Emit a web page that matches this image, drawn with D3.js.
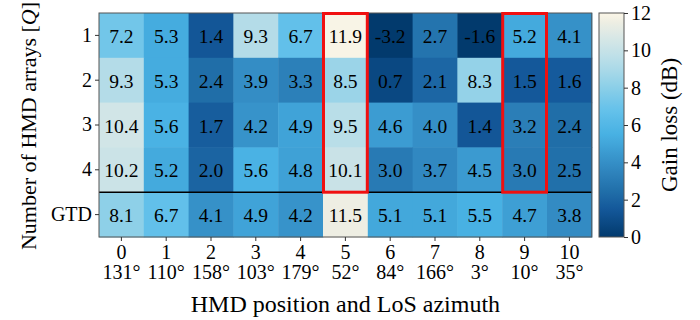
<!DOCTYPE html>
<html>
<head>
<meta charset="utf-8">
<script src="https://cdn.jsdelivr.net/npm/d3@7"></script>
<style>
  body { margin: 0; background: #fff; }
  svg text { font-family: "Liberation Serif", "Times New Roman", serif; fill: #000; }
</style>
</head>
<body>
<svg id="chart" width="700" height="320"></svg>
<script>
// HMD positions (column index) and their line-of-sight azimuths
const positions = ["0", "1", "2", "3", "4", "5", "6", "7", "8", "9", "10"];
const azimuths = ["131°", "110°", "158°", "103°", "179°", "52°", "84°", "166°", "3°", "10°", "35°"];
// Rows: number of HMD arrays Q, then the GTD reference
const rowLabels = ["1", "2", "3", "4", "GTD"];
const gainLoss = [
  [7.2, 5.3, 1.4, 9.3, 6.7, 11.9, -3.2, 2.7, -1.6, 5.2, 4.1],
  [9.3, 5.3, 2.4, 3.9, 3.3, 8.5, 0.7, 2.1, 8.3, 1.5, 1.6],
  [10.4, 5.6, 1.7, 4.2, 4.9, 9.5, 4.6, 4.0, 1.4, 3.2, 2.4],
  [10.2, 5.2, 2.0, 5.6, 4.8, 10.1, 3.0, 3.7, 4.5, 3.0, 2.5],
  [8.1, 6.7, 4.1, 4.9, 4.2, 11.5, 5.1, 5.1, 5.5, 4.7, 3.8]
];
// Highlighted positions (outlined over the Q rows)
const highlighted = [5, 9];
const colorbarTicks = [0, 2, 4, 6, 8, 10, 12];

const svg = d3.select("#chart");
const mLeft = 99, mTop = 13, cell = 44.8;
const W = cell * positions.length, H = cell * rowLabels.length;

const x = d3.scaleBand().domain(d3.range(positions.length)).range([mLeft, mLeft + W]);
const y = d3.scaleBand().domain(d3.range(rowLabels.length)).range([mTop, mTop + H]);

// Colormap: dark navy -> sky blue -> pale cream, clipped to [0, 12]
const stops = [
  [0, "#023a6d"], [1.5, "#14589a"], [2.5, "#2170aa"], [3.5, "#2f84bd"],
  [4.5, "#3b9ad0"], [5.5, "#48b1e3"], [6.7, "#62c0ea"], [8.0, "#8bcfe8"],
  [9.3, "#b4dce8"], [10.3, "#cee4e7"], [11.5, "#eeeee3"], [12, "#fbf6e7"]
];
const color = d3.scaleLinear()
  .domain(stops.map(s => s[0]))
  .range(stops.map(s => s[1]))
  .interpolate(d3.interpolateRgb)
  .clamp(true);

const cells = [];
gainLoss.forEach((row, r) => row.forEach((v, c) => cells.push({ r, c, v })));

svg.append("g").selectAll("rect").data(cells).join("rect")
  .attr("x", d => x(d.c)).attr("y", d => y(d.r))
  .attr("width", x.bandwidth() + 0.5).attr("height", y.bandwidth() + 0.5)
  .attr("fill", d => color(d.v));

svg.append("g").selectAll("text").data(cells).join("text")
  .attr("x", d => x(d.c) + x.bandwidth() / 2)
  .attr("y", d => y(d.r) + y.bandwidth() / 2 + 1)
  .attr("text-anchor", "middle").attr("dominant-baseline", "central")
  .style("font-size", "19.5px")
  .text(d => d.v.toFixed(1));

// Separator between Q rows and GTD row
svg.append("line")
  .attr("x1", mLeft).attr("x2", mLeft + W)
  .attr("y1", y(4)).attr("y2", y(4))
  .attr("stroke", "#000").attr("stroke-width", 1.5);

// Outline of the heatmap area
svg.append("rect")
  .attr("x", mLeft).attr("y", mTop).attr("width", W).attr("height", H)
  .attr("fill", "none").attr("stroke", "#555").attr("stroke-width", 1);

// Red outlines on highlighted positions
svg.append("g").selectAll("rect").data(highlighted).join("rect")
  .attr("x", d => x(d) + 0.5).attr("y", mTop + 0.5)
  .attr("width", x.bandwidth() - 1).attr("height", y(4) - mTop - 0.5)
  .attr("fill", "none").attr("stroke", "#f01010").attr("stroke-width", 3);

// Y axis
const yAxis = svg.append("g").attr("transform", `translate(${mLeft},0)`)
  .call(d3.axisLeft(y).tickFormat(i => rowLabels[i]).tickSize(4).tickPadding(3));
yAxis.select(".domain").remove();
yAxis.selectAll("text").style("font-size", "20px").attr("font-family", null);
yAxis.selectAll("line").attr("stroke", "#333");

// X axis with two-line labels
const xAxis = svg.append("g").attr("transform", `translate(0,${mTop + H})`)
  .call(d3.axisBottom(x).tickFormat("").tickSize(4));
xAxis.select(".domain").remove();
xAxis.selectAll("line").attr("stroke", "#333");
const xl = xAxis.selectAll(".tick").append("text")
  .attr("text-anchor", "middle").style("font-size", "20px");
xl.append("tspan").attr("x", 0).attr("y", 22).text(i => positions[i]);
xl.append("tspan").attr("x", 0).attr("y", 42).text(i => azimuths[i]);

// Axis titles
svg.append("text")
  .attr("x", mLeft + W / 2).attr("y", 312)
  .attr("text-anchor", "middle").style("font-size", "24px")
  .text("HMD position and LoS azimuth");

const yt = svg.append("text")
  .attr("transform", `translate(36,${mTop + H / 2 + 1}) rotate(-90)`)
  .attr("text-anchor", "middle").style("font-size", "22px");
yt.append("tspan").text("Number of HMD arrays [");
yt.append("tspan").style("font-style", "italic").text("Q");
yt.append("tspan").text("]");

// Colorbar
const cbX = 599, cbW = 25;
const cbScale = d3.scaleLinear().domain([0, 12]).range([mTop + H, mTop]);
const defs = svg.append("defs");
const grad = defs.append("linearGradient").attr("id", "cbGrad")
  .attr("x1", 0).attr("y1", 1).attr("x2", 0).attr("y2", 0);
d3.range(0, 12.01, 0.25).forEach(v => {
  grad.append("stop").attr("offset", v / 12).attr("stop-color", color(v));
});
svg.append("rect")
  .attr("x", cbX).attr("y", mTop).attr("width", cbW).attr("height", H)
  .attr("fill", "url(#cbGrad)").attr("stroke", "#555").attr("stroke-width", 1);
const cbAxis = svg.append("g").attr("transform", `translate(${cbX + cbW},0)`)
  .call(d3.axisRight(cbScale).tickValues(colorbarTicks).tickSize(4).tickPadding(3));
cbAxis.select(".domain").remove();
cbAxis.selectAll("text").style("font-size", "20px").attr("font-family", null);
cbAxis.selectAll("line").attr("stroke", "#333");

svg.append("text")
  .attr("transform", `translate(677,${mTop + H / 2}) rotate(-90)`)
  .attr("text-anchor", "middle").style("font-size", "23px")
  .text("Gain loss (dB)");
</script>
</body>
</html>
